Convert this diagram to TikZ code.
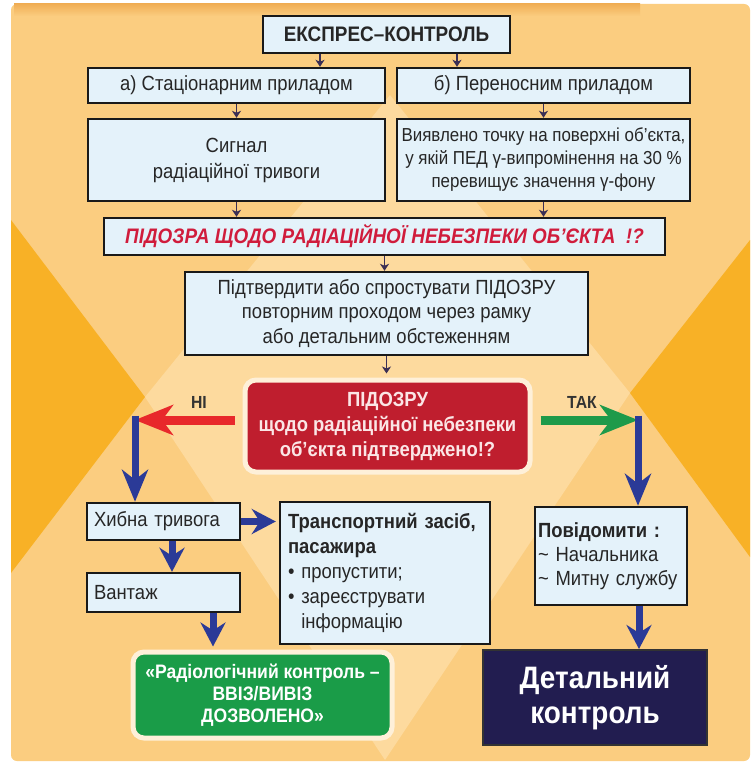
\documentclass[tikz,border=0pt]{standalone}
\usepackage{fontspec}
\setmainfont{Liberation Sans}[FakeStretch=0.9]
\usetikzlibrary{arrows.meta}
\definecolor{bgbase}{HTML}{FBCD80}
\definecolor{bglight}{HTML}{FDDA9E}
\definecolor{bgdark}{HTML}{F8B126}
\definecolor{bgshade}{HTML}{F0AE55}
\definecolor{boxfill}{HTML}{E4F2FA}
\definecolor{pidred}{HTML}{D01C3C}
\definecolor{redbox}{HTML}{BF1E2E}
\definecolor{redtext}{HTML}{FBE6E6}
\definecolor{grnbox}{HTML}{1A9C48}
\definecolor{navybox}{HTML}{221D50}
\definecolor{arrblue}{HTML}{2B3A97}
\definecolor{arrred}{HTML}{E8282B}
\definecolor{arrgreen}{HTML}{1E9A4A}
\definecolor{arrdark}{HTML}{3B2F55}
\definecolor{labeltext}{HTML}{333333}
\newcommand\fsA{\fontsize{20.5}{24}\selectfont}
\tikzset{
  box/.style={draw=black!90, line width=2.4pt, fill=boxfill, inner sep=3pt, align=center, font=\fsA, text=black!85},
  glowbox/.style={draw=white!70!bgbase, line width=5pt, rounded corners=11pt, inner sep=3pt, align=center},
  smallarr/.style={draw=arrdark, line width=1.8pt, -{Stealth[length=7pt,width=9pt,inset=2pt]}},
  redarr/.style={draw=arrred, line width=9pt, -{Stealth[length=38pt,width=30pt,inset=11pt]}},
  grnarr/.style={draw=arrgreen, line width=9pt, -{Stealth[length=38pt,width=30pt,inset=11pt]}},
  bluearr/.style={draw=arrblue, line width=7pt, -{Stealth[length=32pt,width=26pt,inset=10pt]}},
  bluearrs/.style={draw=arrblue, line width=7pt, -{Stealth[length=24pt,width=25pt,inset=8pt]}},
  lbl/.style={font=\bfseries\fontsize{17.5}{18}\selectfont, text=labeltext}
}
\begin{document}
\begin{tikzpicture}[x=1pt,y=-1pt]
\useasboundingbox (0,0) rectangle (750,773);
% background
\fill[white] (0,0) rectangle (750,773);
\fill[bgbase, rounded corners=6pt] (11,4) rectangle (750,761);
\shade[top color=bgshade, bottom color=bgbase] (14,4) rectangle (640,16);
\fill[bglight] (145,397) -- (390,95) -- (630,393) -- (385,760) -- cycle;
\fill[bgdark] (11,220) -- (145,397) -- (11,573) -- cycle;
\fill[bgdark] (750,240) -- (630,393) -- (750,557) -- cycle;

% nodes
\node[box, minimum width=247pt, minimum height=37pt, font=\bfseries\fontsize{21}{24}\selectfont] (eks) at (386.5,34.5) {ЕКСПРЕС–КОНТРОЛЬ};
\node[box, minimum width=297pt, minimum height=35pt] (a) at (236.5,85.5) {а) Стаціонарним приладом};
\node[box, minimum width=293pt, minimum height=35pt] (b) at (543.5,85.5) {б) Переносним приладом};
\node[box, minimum width=297pt, minimum height=82pt, font=\fontsize{20.5}{26}\selectfont] (sig) at (236.5,160) {Сигнал\\радіаційної тривоги};
\node[box, minimum width=293pt, minimum height=82pt, font=\fontsize{18.8}{23}\selectfont] (vyav) at (543.5,160) {Виявлено точку на поверхні об’єкта,\\у якій ПЕД γ-випромінення на 30~\%\\перевищує значення γ-фону};
\node[box, minimum width=561pt, minimum height=37pt, font=\bfseries\itshape\fontsize{21}{22}\selectfont, text=pidred] (pid) at (384.5,236.5) {ПІДОЗРА ЩОДО РАДІАЦІЙНОЇ НЕБЕЗПЕКИ ОБ’ЄКТА~~!?};
\node[box, minimum width=403pt, minimum height=83pt, font=\fontsize{20.5}{24.5}\selectfont] (pidt) at (386.5,313.5) {Підтвердити або спростувати ПІДОЗРУ\\повторним проходом через рамку\\або детальним обстеженням};
\node[glowbox, fill=redbox, minimum width=285pt, minimum height=92pt, text=redtext, font=\bfseries\fontsize{20.5}{25}\selectfont] (red) at (387.5,426) {ПІДОЗРУ\\щодо радіаційної небезпеки\\об’єкта підтверджено!?};
\node[box, minimum width=153pt, minimum height=37pt, text width=139pt, align=left] (hyb) at (163.5,521.5) {Хибна тривога};
\node[box, minimum width=153pt, minimum height=39pt, text width=139pt, align=left] (van) at (163.5,592.5) {Вантаж};
\node[box, minimum width=210pt, minimum height=142pt, text width=194pt, align=left, font=\fontsize{20.5}{25}\selectfont] (tr) at (385,573) {\textbf{Транспортний засіб,}\\\textbf{пасажира}\\• пропустити;\\• зареєструвати\\\phantom{• }інформацію};
\node[box, minimum width=152pt, minimum height=98pt, text width=146pt, align=left, font=\fontsize{20.5}{24}\selectfont] (pov) at (611,556) {\textbf{Повідомити :}\\\textasciitilde{} Начальника\\\textasciitilde{} Митну службу\\[6pt]};
\node[glowbox, fill=grnbox, minimum width=259pt, minimum height=86pt, text=white, font=\bfseries\fontsize{19.5}{22}\selectfont] (grn) at (262.5,695) {«Радіологічний контроль –\\ВВІЗ/ВИВІЗ\\ДОЗВОЛЕНО»};
\node[draw=black!80, line width=2pt, fill=navybox, minimum width=224pt, minimum height=95pt, align=center, text=white, font=\bfseries\fontsize{31}{35}\selectfont] (det) at (595,697.5) {Детальний\\контроль};

% labels
\node[lbl] (ni) at (199,402) {НІ};
\node[lbl] (tak) at (582,402) {ТАК};

% small arrows
\coordinate (e1) at ([xshift=-66.5pt]eks.south);
\coordinate (e2) at ([xshift=70.5pt]eks.south);
\draw[smallarr] (e1) -- (e1 |- a.north);
\draw[smallarr] (e2) -- (e2 |- b.north);
\draw[smallarr] (a.south) -- (a.south |- sig.north);
\draw[smallarr] (b.south) -- (b.south |- vyav.north);
\draw[smallarr] (sig.south) -- (sig.south |- pid.north);
\draw[smallarr] (vyav.south) -- (vyav.south |- pid.north);
\draw[smallarr] (pid.south) -- (pid.south |- pidt.north);
\draw[smallarr, shorten >=4pt] (pidt.south) -- (pidt.south |- red.north);

% decision arrows
\coordinate (nl) at (135,420);
\coordinate (ty) at (638,420);
\draw[redarr, shorten <=8pt] (red.west |- nl) -- (nl);
\draw[grnarr, shorten <=8pt] (red.east |- ty) -- (ty);
\draw[bluearr] ([yshift=4.5pt]nl) -- (nl |- hyb.north);
\draw[bluearr] ([yshift=4.5pt]ty) -- (ty |- pov.north);

% lower arrows
\coordinate (hx) at (172,0);
\coordinate (vx) at (213,0);
\coordinate (px) at (639,0);
\draw[bluearrs, shorten >=3pt] (hyb.east) -- (hyb.east -| tr.west);
\draw[bluearrs] (hyb.south -| hx) -- (van.north -| hx);
\draw[bluearrs, shorten >=3pt] (van.south -| vx) -- (grn.north -| vx);
\draw[bluearrs] (pov.south -| px) -- (det.north -| px);
\end{tikzpicture}
\end{document}
